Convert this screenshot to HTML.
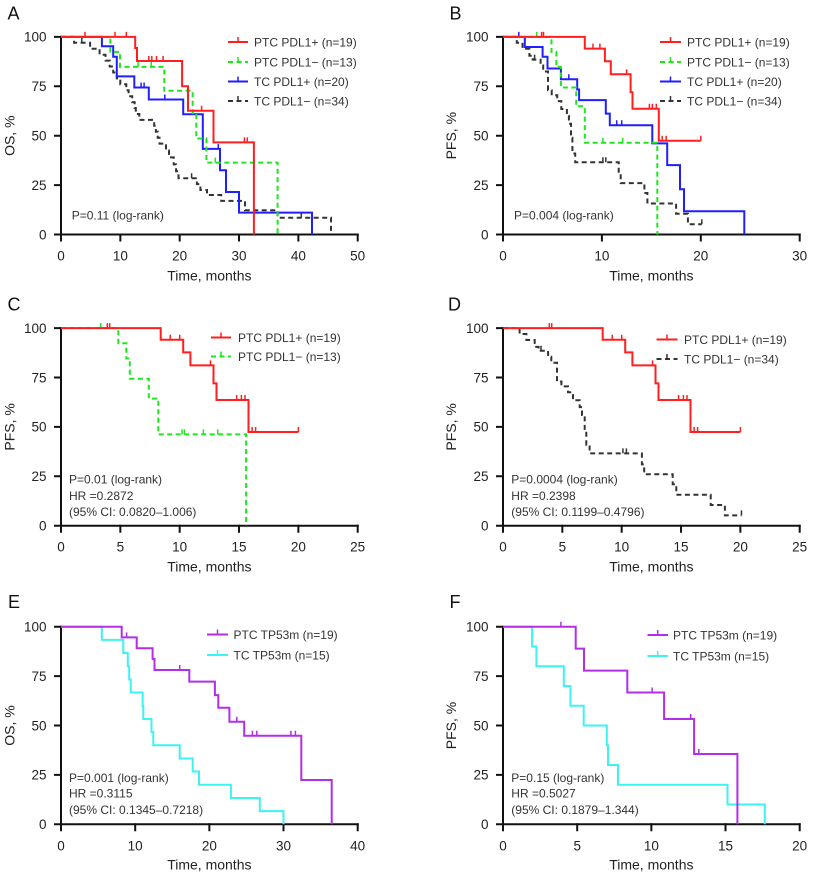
<!DOCTYPE html>
<html>
<head>
<meta charset="utf-8">
<style>
html,body{margin:0;padding:0;background:#fff;}
svg{display:block;}
text{font-family:"Liberation Sans",Arial,sans-serif;fill:#222;}
.tk{font-size:13.5px;}
.ttl{font-size:14px;}
.lg{font-size:12px;fill:#333;}
.an{font-size:12px;fill:#333;}
.pl{font-size:18px;fill:#111;}
.ax{stroke:#111;stroke-width:2;fill:none;stroke-linecap:square;}
.c{fill:none;stroke-width:2;stroke-linejoin:miter;}
.cm{fill:none;stroke-width:1.5;}
.dash{stroke-dasharray:5,3.5;}
.red{stroke:#ff1f1f;}
.grn{stroke:#1ee61e;}
.blu{stroke:#1f1fff;}
.blk{stroke:#333;}
.pur{stroke:#b22ee8;}
.cyn{stroke:#3ef2f2;}
</style>
</head>
<body>
<svg width="816" height="875" viewBox="0 0 816 875" xmlns="http://www.w3.org/2000/svg">
<rect width="816" height="875" fill="#fff"/>

<!-- ================= PANEL A ================= -->
<text class="pl" x="7.5" y="19.5">A</text>
<g transform="translate(61,234.5)">
  <path class="ax" d="M0,-197.6 V0 H296.7"/>
  <path class="ax" d="M-6,0H0 M-6,-49.4H0 M-6,-98.8H0 M-6,-148.2H0 M-6,-197.6H0"/>
  <path class="ax" d="M0,0V6 M59.34,0V6 M118.68,0V6 M178.02,0V6 M237.36,0V6 M296.7,0V6"/>
  <g class="tk" text-anchor="end">
    <text x="-14.5" y="4.8">0</text><text x="-14.5" y="-44.6">25</text><text x="-14.5" y="-94">50</text><text x="-14.5" y="-143.4">75</text><text x="-14.5" y="-192.8">100</text>
  </g>
  <g class="tk" text-anchor="middle">
    <text x="0" y="26">0</text><text x="59.34" y="26">10</text><text x="118.68" y="26">20</text><text x="178.02" y="26">30</text><text x="237.36" y="26">40</text><text x="296.7" y="26">50</text>
  </g>
  <text class="ttl" x="148.35" y="46" text-anchor="middle">Time, months</text>
  <text class="ttl" transform="translate(-46.5,-98.8) rotate(-90)" text-anchor="middle">OS, %</text>

  <path class="c blk dash" d="M0,-197.6 H13.1 V-191.7 H29.1 V-185.7 H38.6 V-179.8 H44.5 V-173.9 H48.7 V-168 H52.2 V-162 H55.8 V-156.1 H59.3 V-150.2 H65.3 V-144.2 H67.6 V-138.3 H71.2 V-132.4 H73.6 V-126.5 H74.8 V-120.5 H78.3 V-114.6 H93.2 V-108.7 H94.9 V-102.8 H96.7 V-96.8 H98.5 V-90.9 H105 V-84 H108 V-77.1 H112.7 V-70.1 H115.1 V-63.2 H117.5 V-56.3 H135.9 V-50.4 H139.4 V-44.5 H146 V-39.5 H160.2 V-33.6 H184 V-24.3 H216.6 V-16.8 H270 V0"/>
  <path class="cm blk" d="M20.8,-191.7v-5 M130.6,-56.3v-5 M240.3,-16.8v-5"/>
  <path class="c blu" d="M0,-197.6 H40.9 V-188.3 H52.2 V-177.8 H55.8 V-158.1 H73.3 V-147 H87.8 V-135 H122.2 V-120.3 H141.8 V-85.6 H159 V-64.2 H165 V-42.5 H178 V-21.9 H251 V0"/>
  <path class="cm blu" d="M80.1,-147v-5 M83.1,-147v-5 M103.8,-135v-5 M157.3,-85.6v-5"/>
  <path class="c grn dash" d="M0,-197.6 H49.3 V-182.6 H59 V-167.6 H103.3 V-143.7 H131.7 V-119.4 H135.3 V-96 H145.4 V-71.9 H216.6 V0"/>
  <path class="cm grn" d="M77.1,-167.6v-5 M90.2,-167.6v-5 M154.3,-71.9v-5"/>
  <path class="c red" d="M0,-197.6 H74.2 V-186.5 H76 V-173.5 H121.1 V-148.2 H127 V-123.7 H152.5 V-92.1 H192.9 V0"/>
  <path class="cm red" d="M24,-197.6v-5 M54,-197.6v-5 M65.3,-197.6v-5 M87.8,-173.5v-5 M90.8,-173.5v-5 M95.5,-173.5v-5 M102.1,-173.5v-5 M140.6,-123.7v-5 M183.4,-92.1v-5 M186.3,-92.1v-5"/>
</g>
<text class="an" x="71.7" y="219.5">P=0.11 (log-rank)</text>
<!-- legend A -->
<g>
  <path class="c red" d="M228,42H248"/><path class="cm red" d="M238,42v-5"/>
  <text class="lg" x="254" y="46.5">PTC PDL1+ (n=19)</text>
  <path class="c grn dash" d="M228,62H248"/><path class="cm grn" d="M238,62v-5"/>
  <text class="lg" x="254" y="66.5">PTC PDL1− (n=13)</text>
  <path class="c blu" d="M228,81.5H248"/><path class="cm blu" d="M238,81.5v-5"/>
  <text class="lg" x="254" y="86">TC PDL1+ (n=20)</text>
  <path class="c blk dash" d="M228,101H248"/><path class="cm blk" d="M238,101v-5"/>
  <text class="lg" x="254" y="105.5">TC PDL1− (n=34)</text>
</g>

<!-- ================= PANEL B ================= -->
<text class="pl" x="449.5" y="19.5">B</text>
<g transform="translate(503,234.5)">
  <path class="ax" d="M0,-197.6 V0 H296.7"/>
  <path class="ax" d="M-6,0H0 M-6,-49.4H0 M-6,-98.8H0 M-6,-148.2H0 M-6,-197.6H0"/>
  <path class="ax" d="M0,0V6 M98.9,0V6 M197.8,0V6 M296.7,0V6"/>
  <g class="tk" text-anchor="end">
    <text x="-14.5" y="4.8">0</text><text x="-14.5" y="-44.6">25</text><text x="-14.5" y="-94">50</text><text x="-14.5" y="-143.4">75</text><text x="-14.5" y="-192.8">100</text>
  </g>
  <g class="tk" text-anchor="middle">
    <text x="0" y="26">0</text><text x="98.9" y="26">10</text><text x="197.8" y="26">20</text><text x="296.7" y="26">30</text>
  </g>
  <text class="ttl" x="148.35" y="46" text-anchor="middle">Time, months</text>
  <text class="ttl" transform="translate(-47,-98.8) rotate(-90)" text-anchor="middle">PFS, %</text>

  <path class="c blk dash" d="M0,-197.6 H13.8 V-191.7 H19.5 V-185.7 H26.4 V-178.8 H29.7 V-174.9 H37.6 V-169 H40.2 V-163 H45 V-144.2 H48.7 V-139.3 H54.2 V-133.4 H58.3 V-125.5 H63.9 V-118.6 H65.9 V-110.7 H68 V-96.8 H69.4 V-81 H72.2 V-72.3 H115.7 V-61.3 H117.7 V-51.4 H141.4 V-41.5 H144.4 V-31 H173.1 V-20.7 H184.9 V-10.3 H198.8"/>
  <path class="cm blk" d="M31.6,-174.9v-5 M99.9,-72.3v-5 M102.8,-72.3v-5 M198.8,-10.3v-5"/>
  <path class="c blu" d="M0,-197.6 H21.8 V-187.5 H39.6 V-177.8 H44.5 V-166 H57.9 V-155.3 H74.2 V-145 H76.1 V-134.4 H102.8 V-120.9 H106.8 V-109.3 H149.3 V-91.1 H164.2 V-69.4 H177 V-45.3 H181 V-23.3 H241.3 V0"/>
  <path class="cm blu" d="M15.8,-197.6v-5 M65.8,-155.3v-5 M113.7,-109.3v-5 M118.7,-109.3v-5"/>
  <path class="c grn dash" d="M0,-197.6 H48.5 V-182.6 H53.4 V-167.6 H57.9 V-147 H73.2 V-128.2 H81.8 V-91.7 H154.3 V0"/>
  <path class="cm grn" d="M33.6,-197.6v-5 M99.9,-91.7v-5 M119.7,-91.7v-5"/>
  <path class="c red" d="M0,-197.6 H81.8 V-185.9 H101.9 V-173.3 H107.8 V-160.3 H127.6 V-142.3 H129.5 V-125.7 H155.8 V-93.7 H197.8"/>
  <path class="cm red" d="M38.6,-197.6v-5 M40.5,-197.6v-5 M90,-185.9v-5 M96.9,-185.9v-5 M123.6,-160.3v-5 M146.4,-125.7v-5 M149.3,-125.7v-5 M153.3,-125.7v-5 M159.2,-93.7v-5 M163.2,-93.7v-5 M197.8,-93.7v-5"/>
</g>
<text class="an" x="514" y="219.5">P=0.004 (log-rank)</text>
<g>
  <path class="c red" d="M660,42H681"/><path class="cm red" d="M670.5,42v-5"/>
  <text class="lg" x="687" y="46.5">PTC PDL1+ (n=19)</text>
  <path class="c grn dash" d="M660,62H681"/><path class="cm grn" d="M670.5,62v-5"/>
  <text class="lg" x="687" y="66.5">PTC PDL1− (n=13)</text>
  <path class="c blu" d="M660,81.5H681"/><path class="cm blu" d="M670.5,81.5v-5"/>
  <text class="lg" x="687" y="86">TC PDL1+ (n=20)</text>
  <path class="c blk dash" d="M660,101H681"/><path class="cm blk" d="M670.5,101v-5"/>
  <text class="lg" x="687" y="105.5">TC PDL1− (n=34)</text>
</g>

<!-- ================= PANEL C ================= -->
<text class="pl" x="7.5" y="310.5">C</text>
<g transform="translate(61,525.7)">
  <path class="ax" d="M0,-197.6 V0 H296.7"/>
  <path class="ax" d="M-6,0H0 M-6,-49.4H0 M-6,-98.8H0 M-6,-148.2H0 M-6,-197.6H0"/>
  <path class="ax" d="M0,0V6 M59.34,0V6 M118.68,0V6 M178.02,0V6 M237.36,0V6 M296.7,0V6"/>
  <g class="tk" text-anchor="end">
    <text x="-14.5" y="4.8">0</text><text x="-14.5" y="-44.6">25</text><text x="-14.5" y="-94">50</text><text x="-14.5" y="-143.4">75</text><text x="-14.5" y="-192.8">100</text>
  </g>
  <g class="tk" text-anchor="middle">
    <text x="0" y="26">0</text><text x="59.34" y="26">5</text><text x="118.68" y="26">10</text><text x="178.02" y="26">15</text><text x="237.36" y="26">20</text><text x="296.7" y="26">25</text>
  </g>
  <text class="ttl" x="148.35" y="46" text-anchor="middle">Time, months</text>
  <text class="ttl" transform="translate(-46.5,-98.8) rotate(-90)" text-anchor="middle">PFS, %</text>

  <path class="c grn dash" d="M0,-197.6 H57.3 V-182.4 H65.3 V-167.2 H68.8 V-147 H87.8 V-127.1 H97.3 V-91.3 H185.1 V0"/>
  <path class="cm grn" d="M39.8,-197.6v-5 M121,-91.3v-5 M123.4,-91.3v-5 M142.4,-91.3v-5 M156.7,-91.3v-5"/>
  <path class="c red" d="M0,-197.6 H99.7 V-185.9 H122.2 V-173.3 H129.4 V-160.3 H152.5 V-142.3 H155.5 V-125.7 H187.5 V-93.7 H237.4"/>
  <path class="cm red" d="M46.3,-197.6v-5 M48.7,-197.6v-5 M109.2,-185.9v-5 M118.7,-185.9v-5 M149.5,-160.3v-5 M175.6,-125.7v-5 M180.4,-125.7v-5 M184,-125.7v-5 M191.1,-93.7v-5 M194.6,-93.7v-5 M237.4,-93.7v-5"/>
</g>
<text class="an" x="69" y="483.5">P=0.01 (log-rank)</text>
<text class="an" x="69" y="499.8">HR =0.2872</text>
<text class="an" x="69" y="516.1">(95% CI: 0.0820–1.006)</text>
<g>
  <path class="c red" d="M211,337.5H231"/><path class="cm red" d="M221,337.5v-5"/>
  <text class="lg" x="238" y="342">PTC PDL1+ (n=19)</text>
  <path class="c grn dash" d="M211,356.5H231"/><path class="cm grn" d="M221,356.5v-5"/>
  <text class="lg" x="238" y="361">PTC PDL1− (n=13)</text>
</g>

<!-- ================= PANEL D ================= -->
<text class="pl" x="448" y="310.5">D</text>
<g transform="translate(503,525.7)">
  <path class="ax" d="M0,-197.6 V0 H296.7"/>
  <path class="ax" d="M-6,0H0 M-6,-49.4H0 M-6,-98.8H0 M-6,-148.2H0 M-6,-197.6H0"/>
  <path class="ax" d="M0,0V6 M59.34,0V6 M118.68,0V6 M178.02,0V6 M237.36,0V6 M296.7,0V6"/>
  <g class="tk" text-anchor="end">
    <text x="-14.5" y="4.8">0</text><text x="-14.5" y="-44.6">25</text><text x="-14.5" y="-94">50</text><text x="-14.5" y="-143.4">75</text><text x="-14.5" y="-192.8">100</text>
  </g>
  <g class="tk" text-anchor="middle">
    <text x="0" y="26">0</text><text x="59.34" y="26">5</text><text x="118.68" y="26">10</text><text x="178.02" y="26">15</text><text x="237.36" y="26">20</text><text x="296.7" y="26">25</text>
  </g>
  <text class="ttl" x="148.35" y="46" text-anchor="middle">Time, months</text>
  <text class="ttl" transform="translate(-47,-98.8) rotate(-90)" text-anchor="middle">PFS, %</text>

  <path class="c blk dash" d="M0,-197.6 H16.6 V-191.7 H23.4 V-185.7 H31.7 V-178.8 H35.6 V-174.9 H45.1 V-169 H48.3 V-163 H54 V-144.2 H58.4 V-139.3 H65 V-133.4 H70 V-125.5 H76.7 V-118.6 H79 V-110.7 H81.7 V-96.8 H83.3 V-81 H86.6 V-72.3 H138.9 V-61.3 H141.2 V-51.4 H169.7 V-41.5 H173.3 V-31 H207.7 V-20.7 H221.9 V-10.3 H238.5"/>
  <path class="cm blk" d="M38,-174.9v-5 M119.9,-72.3v-5 M123.4,-72.3v-5 M238.5,-10.3v-5"/>
  <path class="c red" d="M0,-197.6 H99.7 V-185.9 H122.2 V-173.3 H129.4 V-160.3 H152.5 V-142.3 H155.5 V-125.7 H187.5 V-93.7 H237.4"/>
  <path class="cm red" d="M46.3,-197.6v-5 M48.7,-197.6v-5 M109.2,-185.9v-5 M118.7,-185.9v-5 M149.5,-160.3v-5 M175.6,-125.7v-5 M180.4,-125.7v-5 M184,-125.7v-5 M191.1,-93.7v-5 M194.6,-93.7v-5 M237.4,-93.7v-5"/>
</g>
<text class="an" x="511.3" y="483.5">P=0.0004 (log-rank)</text>
<text class="an" x="511.3" y="499.8">HR =0.2398</text>
<text class="an" x="511.3" y="516.1">(95% CI: 0.1199–0.4796)</text>
<g>
  <path class="c red" d="M656.5,339.5H677.5"/><path class="cm red" d="M667,339.5v-5"/>
  <text class="lg" x="684" y="344">PTC PDL1+ (n=19)</text>
  <path class="c blk dash" d="M656.5,359H677.5"/><path class="cm blk" d="M667,359v-5"/>
  <text class="lg" x="684" y="363.5">TC PDL1− (n=34)</text>
</g>

<!-- ================= PANEL E ================= -->
<text class="pl" x="8" y="608">E</text>
<g transform="translate(61,824.3)">
  <path class="ax" d="M0,-197.6 V0 H296.7"/>
  <path class="ax" d="M-6,0H0 M-6,-49.4H0 M-6,-98.8H0 M-6,-148.2H0 M-6,-197.6H0"/>
  <path class="ax" d="M0,0V6 M74.2,0V6 M148.35,0V6 M222.5,0V6 M296.7,0V6"/>
  <g class="tk" text-anchor="end">
    <text x="-14.5" y="4.8">0</text><text x="-14.5" y="-44.6">25</text><text x="-14.5" y="-94">50</text><text x="-14.5" y="-143.4">75</text><text x="-14.5" y="-192.8">100</text>
  </g>
  <g class="tk" text-anchor="middle">
    <text x="0" y="26">0</text><text x="74.2" y="26">10</text><text x="148.35" y="26">20</text><text x="222.5" y="26">30</text><text x="296.7" y="26">40</text>
  </g>
  <text class="ttl" x="148.35" y="45" text-anchor="middle">Time, months</text>
  <text class="ttl" transform="translate(-46.5,-98.8) rotate(-90)" text-anchor="middle">OS, %</text>

  <path class="c cyn" d="M0,-197.6 H40.8 V-184.4 H62.3 V-171.3 H66.8 V-158.1 H68.2 V-144.8 H69.7 V-131.8 H81.6 V-118.6 H82.3 V-105.3 H90.5 V-92.3 H92.3 V-79 H118.7 V-65.8 H131.7 V-52.8 H138 V-39.5 H169.9 V-26.3 H198.8 V-13.2 H222.5 V0"/>
  <path class="c pur" d="M0,-197.6 H60.7 V-186.9 H75.7 V-176.1 H91.6 V-165.4 H93.5 V-154.3 H128.3 V-142.7 H153.9 V-129.2 H157.3 V-116.6 H168.4 V-102.6 H183.2 V-88.5 H240.3 V-44.3 H270.7 V0"/>
  <path class="cm pur" d="M65.6,-186.9v-5 M118.7,-154.3v-5 M175.8,-102.6v-5 M191.4,-88.5v-5 M195.8,-88.5v-5 M229.9,-88.5v-5 M234.4,-88.5v-5"/>
</g>
<text class="an" x="69" y="781.8">P=0.001 (log-rank)</text>
<text class="an" x="69" y="797.6">HR =0.3115</text>
<text class="an" x="69" y="813.8">(95% CI: 0.1345–0.7218)</text>
<g>
  <path class="c pur" d="M207,634.5H228"/><path class="cm pur" d="M217.5,634.5v-5"/>
  <text class="lg" x="233.5" y="639">PTC TP53m (n=19)</text>
  <path class="c cyn" d="M207,655H228"/><path class="cm cyn" d="M217.5,655v-5"/>
  <text class="lg" x="233.5" y="659.5">TC TP53m (n=15)</text>
</g>

<!-- ================= PANEL F ================= -->
<text class="pl" x="449.5" y="608">F</text>
<g transform="translate(503,824.3)">
  <path class="ax" d="M0,-197.6 V0 H296.7"/>
  <path class="ax" d="M-6,0H0 M-6,-49.4H0 M-6,-98.8H0 M-6,-148.2H0 M-6,-197.6H0"/>
  <path class="ax" d="M0,0V6 M74.2,0V6 M148.35,0V6 M222.5,0V6 M296.7,0V6"/>
  <g class="tk" text-anchor="end">
    <text x="-14.5" y="4.8">0</text><text x="-14.5" y="-44.6">25</text><text x="-14.5" y="-94">50</text><text x="-14.5" y="-143.4">75</text><text x="-14.5" y="-192.8">100</text>
  </g>
  <g class="tk" text-anchor="middle">
    <text x="0" y="26">0</text><text x="74.2" y="26">5</text><text x="148.35" y="26">10</text><text x="222.5" y="26">15</text><text x="296.7" y="26">20</text>
  </g>
  <text class="ttl" x="148.35" y="45" text-anchor="middle">Time, months</text>
  <text class="ttl" transform="translate(-47,-98.8) rotate(-90)" text-anchor="middle">PFS, %</text>

  <path class="c cyn" d="M0,-197.6 H29.1 V-177.8 H33.4 V-158.1 H60.8 V-138.3 H67.4 V-118.6 H80.7 V-98.8 H103.8 V-79 H105 V-59.3 H115 V-39.5 H224.5 V-19.8 H261.8 V0"/>
  <path class="c pur" d="M0,-197.6 H72.7 V-175.7 H81 V-153.7 H124.3 V-131.8 H161.1 V-105.3 H191.1 V-70.3 H234.4 V0"/>
  <path class="cm pur" d="M57.9,-197.6v-5 M149.1,-131.8v-5 M187.7,-105.3v-5 M195.8,-70.3v-5"/>
</g>
<text class="an" x="511.3" y="781.8">P=0.15 (log-rank)</text>
<text class="an" x="511.3" y="797.6">HR =0.5027</text>
<text class="an" x="511.3" y="813.8">(95% CI: 0.1879–1.344)</text>
<g>
  <path class="c pur" d="M647.5,635H668"/><path class="cm pur" d="M657.7,635v-5"/>
  <text class="lg" x="673" y="639.5">PTC TP53m (n=19)</text>
  <path class="c cyn" d="M647.5,656H668"/><path class="cm cyn" d="M657.7,656v-5"/>
  <text class="lg" x="673" y="660.5">TC TP53m (n=15)</text>
</g>
</svg>
</body>
</html>
